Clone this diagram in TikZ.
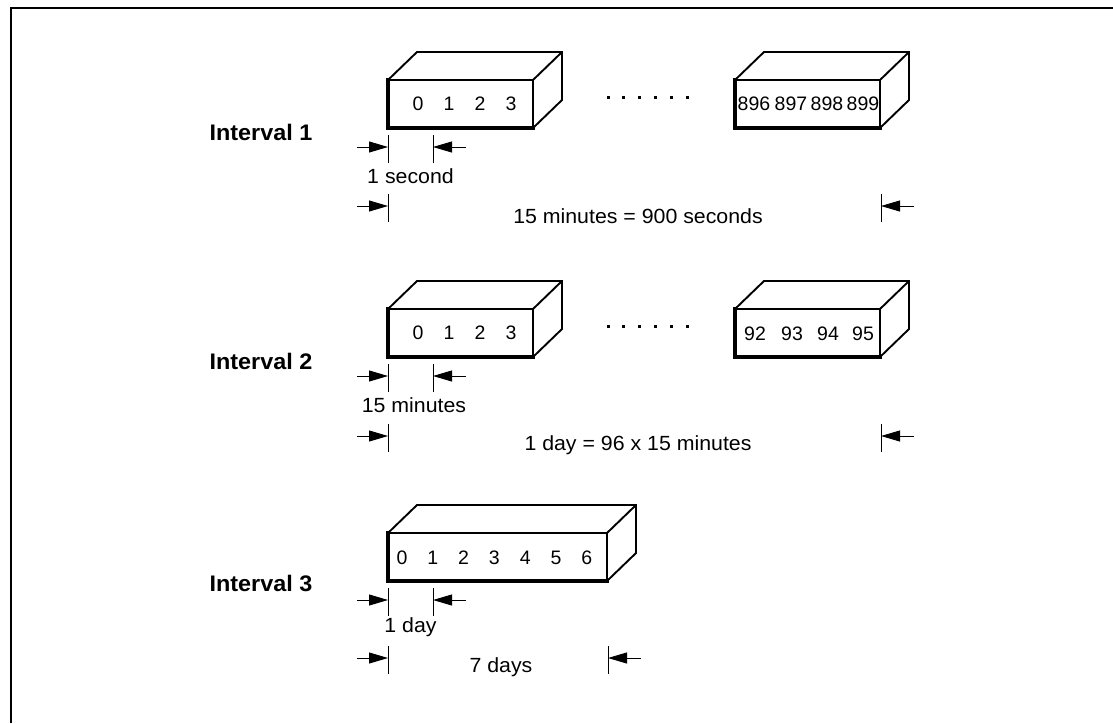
\documentclass[tikz,border=0pt]{standalone}
\usepackage{fontspec}
\setmainfont{Liberation Sans}[FakeStretch=1.04]
\newfontfamily\cellfont{Liberation Sans}
\usetikzlibrary{arrows.meta}
\usetikzlibrary{calc}

\tikzset{
  face/.style={line width=1.9pt, line join=miter},
  heavy/.style={line width=3.3pt, line join=miter, line cap=rect},
  tick/.style={line width=0.9pt},
  dim/.style={line width=0.9pt, -{Triangle[length=19pt,width=11pt]}},
  cell/.style={font=\cellfont\fontsize{19.5}{21}\selectfont, inner sep=0pt},
  lbl/.style={font=\fontsize{20.5}{23}\selectfont, inner sep=0pt},
  title/.style={font=\fontsize{22.5}{25}\selectfont\bfseries, inner sep=0pt},
}

\newcommand{\databox}[4]{%
  \node[face, draw, anchor=north west, outer sep=0pt, inner sep=0pt,
        minimum width=#4pt, minimum height=48pt] (#1) at (#2,#3) {};
  \draw[face] (#1.north west) -- ++(29,-28) -- ++(#4,0) -- ++(0,48) -- (#1.south east);
  \draw[face] (#1.north east) -- ++(29,-28);
  \draw[heavy] (#1.north west) -- (#1.south west) -- (#1.south east);
}

\newcommand{\dimmark}[4]{%
  \coordinate (#1l) at (#2,#4);
  \coordinate (#1r) at (#3,#4);
  \coordinate (#1ls) at ($(#1l)+(-31,0)$);
  \coordinate (#1rs) at ($(#1r)+(33,0)$);
  \draw[tick] ($(#1l)+(0,-12)$) -- ($(#1l)+(0,16)$);
  \draw[tick] ($(#1r)+(0,-12)$) -- ($(#1r)+(0,16)$);
  \draw[dim] (#1ls) -- (#1l);
  \draw[dim] (#1rs) -- (#1r);
}

\begin{document}
\begin{tikzpicture}[x=1pt, y=-1pt]
  \useasboundingbox (0,0) rectangle (1113,723);
  \draw[line width=2.5pt] (11,723) -- (11,7.8) -- (1113,7.8);

  \node[title] (t1) at (261,132) {Interval 1};
  \node[title] (t2) at (261,361) {Interval 2};
  \node[title] (t3) at (261,583) {Interval 3};

  \databox{b1a}{388}{80}{145}
  \databox{b1b}{735}{80}{145}
  \databox{b2a}{388}{309}{145}
  \databox{b2b}{735}{309}{145}
  \databox{b3}{388}{533}{219}

  \foreach \d in {0,...,3} {
    \node[cell] (p\d) at ({418+31*\d},104) {\d};
    \node[cell] (q\d) at ({418+31*\d},333) {\d};
  }
  \foreach \d/\x in {896/754,897/791,898/827,899/863}
    \node[cell] (p\d) at (\x,104) {\d};
  \foreach \d/\x in {92/755,93/792,94/828,95/863}
    \node[cell] (q\d) at (\x,334) {\d};
  \foreach \d in {0,...,6}
    \node[cell] (r\d) at ({402+30.8*\d},558) {\d};

  \foreach \i in {0,...,5} {
    \fill ({606.5+15.8*\i},95.5) rectangle ++(3,3);
    \fill ({606.5+15.8*\i},324.5) rectangle ++(3,3);
  }

  \dimmark{u1}{388}{433}{147}
  \node[lbl] (u1t) at (410.5,176) {1 second};
  \dimmark{w1}{388}{881}{206}
  \node[lbl] (w1t) at (638,216) {15 minutes = 900 seconds};

  \dimmark{u2}{388}{433}{376}
  \node[lbl] (u2t) at (414,405) {15 minutes};
  \dimmark{w2}{388}{881}{436}
  \node[lbl] (w2t) at (638,445) {1 day = 96 x 15 minutes};

  \dimmark{u3}{388}{433}{600}
  \node[lbl] (u3t) at (410.5,627) {1 day};
  \dimmark{w3}{388}{608}{658}
  \node[lbl] (w3t) at (501,667) {7 days};
\end{tikzpicture}
\end{document}
